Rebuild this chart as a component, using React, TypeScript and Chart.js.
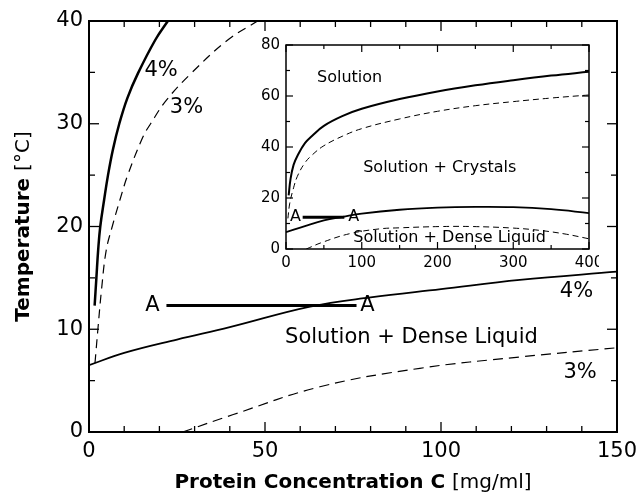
import React, { useEffect, useRef } from "react";
import { Chart, registerables } from "chart.js";
Chart.register(...registerables);

const FONT = "'DejaVu Sans', 'Liberation Sans', sans-serif";

// ---------- Main plot data ----------
const mainXTicks = [0, 50, 100, 150];
const mainYTicks = [0, 10, 20, 30, 40];

// crystal solubility, 4% (solid)
const crys4C = [1.6, 2.1, 2.6, 3.2, 4.3, 5.4, 6.8, 8.6, 10.9, 13.9, 18.9, 22.4];
const crys4T = [12.3, 15.0, 17.7, 20.0, 22.6, 25.0, 27.5, 30.0, 32.5, 34.9, 38.2, 40.0];
// crystal solubility, 3% (dashed)
const crys3C = [1.7, 2.5, 3.6, 4.9, 6.6, 8.8, 11.0, 15.3, 17.5, 22.0, 29.0, 39.6, 47.9];
const crys3T = [6.7, 9.9, 14.0, 17.7, 20.0, 22.6, 25.0, 28.7, 30.0, 32.3, 34.9, 38.2, 40.0];
// liquid-liquid coexistence, 4% (solid)
const ll4C = [0, 10, 25, 40, 62.8, 80, 100, 122.4, 150];
const ll4T = [6.5, 7.7, 9.0, 10.2, 12.2, 13.1, 13.9, 14.8, 15.6];
// liquid-liquid coexistence, 3% (dashed)
const ll3C = [26.6, 41, 65.6, 94, 122.4, 150];
const ll3T = [0, 1.7, 4.4, 6.2, 7.3, 8.2];
// path A–A
const pathAC = [22, 76];
const pathAT = [12.3, 12.3];

// ---------- Inset data ----------
const inXTicks = [0, 100, 200, 300, 400];
const inYTicks = [0, 20, 40, 60, 80];
const inCrys4C = [3.5, 6, 10, 15, 25, 35, 50, 75, 100, 150, 200, 250, 300, 350, 400];
const inCrys4T = [21, 27.5, 33, 36.5, 41.5, 44.5, 48.3, 52.2, 55, 58.8, 61.8, 64.2, 66.2, 68, 69.5];
const inCrys3C = [2.5, 5, 10, 15, 25, 35, 50, 75, 100, 150, 200, 250, 300, 350, 400];
const inCrys3T = [12, 18, 24, 28.5, 33.8, 37, 40.5, 44.3, 47.2, 51, 54, 56.2, 57.8, 59.2, 60.4];
const inLl4C = [0, 25, 50, 75, 100, 150, 200, 250, 300, 350, 400];
const inLl4T = [6.6, 9.0, 11.2, 12.6, 13.9, 15.4, 16.2, 16.5, 16.4, 15.6, 14.1];
const inLl3C = [26.7, 48.7, 84, 123.7, 150, 203, 247, 300, 335, 370, 400];
const inLl3T = [0, 2.7, 6, 7.9, 8.3, 8.8, 8.8, 8.2, 7.3, 5.8, 4.0];
const inPathAC = [22, 77];
const inPathAT = [12.5, 12.5];

// ---------- annotation text (data coordinates) ----------
const mainLabels = [
  { text: "4%", x: 20.5, y: 35.2 },
  { text: "3%", x: 27.7, y: 31.6 },
  { text: "A", x: 18, y: 12.35 },
  { text: "A", x: 79.1, y: 12.35 },
  { text: "4%", x: 138.5, y: 13.7 },
  { text: "3%", x: 139.5, y: 5.8 },
  { text: "Solution + Dense Liquid", x: 91.6, y: 9.15 },
];
const insetLabels = [
  { text: "Solution", x: 84, y: 67.1 },
  { text: "Solution + Crystals", x: 203, y: 31.7 },
  { text: "Solution + Dense Liquid", x: 216, y: 4.5 },
  { text: "A", x: 12.6, y: 12.8 },
  { text: "A", x: 89.3, y: 12.8 },
];

const pts = (xs: number[], ys: number[]) => xs.map((x, i) => ({ x, y: ys[i] }));

function ds(data: any, width: number, dash: number[] = []) {
  return {
    data,
    showLine: true,
    borderColor: "#000",
    backgroundColor: "#000",
    borderWidth: width,
    borderDash: dash,
    pointRadius: 0,
    tension: 0.4,
    fill: false,
  };
}

function drawMixed(ctx: CanvasRenderingContext2D, parts: { text: string; font: string }[], cx: number, cy: number) {
  let total = 0;
  const widths = parts.map((p) => {
    ctx.font = p.font;
    const w = ctx.measureText(p.text).width;
    total += w;
    return w;
  });
  let x = cx - total / 2;
  ctx.textAlign = "left";
  ctx.textBaseline = "middle";
  parts.forEach((p, i) => {
    ctx.font = p.font;
    ctx.fillText(p.text, x, cy);
    x += widths[i];
  });
}

function makeDecor(o: any) {
  return {
    id: "decor_" + o.name,
    afterDatasetsDraw(chart: any) {
      const { ctx, chartArea: a, scales } = chart;
      const xs = scales.x;
      const ys = scales.y;
      ctx.save();
      ctx.strokeStyle = "#000";
      ctx.fillStyle = "#000";
      ctx.lineWidth = o.tickWidth;
      const seg = (x1: number, y1: number, x2: number, y2: number) => {
        ctx.beginPath();
        ctx.moveTo(x1, y1);
        ctx.lineTo(x2, y2);
        ctx.stroke();
      };
      const isMajor = (v: number, m: number) => Math.abs(v / m - Math.round(v / m)) < 1e-6;
      for (let v = xs.min; v <= xs.max + 1e-9; v += o.xMinor) {
        const len = isMajor(v, o.xMajor) ? o.majorLen : o.minorLen;
        const px = xs.getPixelForValue(v);
        seg(px, a.bottom, px, a.bottom - len);
        seg(px, a.top, px, a.top + len);
      }
      for (let v = ys.min; v <= ys.max + 1e-9; v += o.yMinor) {
        const len = isMajor(v, o.yMajor) ? o.majorLen : o.minorLen;
        const py = ys.getPixelForValue(v);
        seg(a.left, py, a.left + len, py);
        seg(a.right, py, a.right - len, py);
      }
      ctx.lineWidth = o.frameWidth;
      ctx.strokeRect(a.left, a.top, a.right - a.left, a.bottom - a.top);

      ctx.font = `${o.labelSize}px ${FONT}`;
      ctx.textAlign = "center";
      ctx.textBaseline = "middle";
      o.labels.forEach((l: any) => {
        ctx.fillText(l.text, xs.getPixelForValue(l.x), ys.getPixelForValue(l.y));
      });

      if (o.titles) {
        const cx = (a.left + a.right) / 2;
        drawMixed(
          ctx,
          [
            { text: "Protein Concentration C ", font: `bold 20px ${FONT}` },
            { text: "[mg/ml]", font: `20px ${FONT}` },
          ],
          cx,
          a.bottom + 51
        );
        ctx.save();
        ctx.translate(24, (a.top + a.bottom) / 2);
        ctx.rotate(-Math.PI / 2);
        drawMixed(
          ctx,
          [
            { text: "Temperature ", font: `bold 20px ${FONT}` },
            { text: "[°C]", font: `20px ${FONT}` },
          ],
          0,
          0
        );
        ctx.restore();
      }
      ctx.restore();
    },
  };
}

function axis(min: number, max: number, ticks: number[], size: number, pad: number, fit: (s: any) => void) {
  return {
    type: "linear",
    min,
    max,
    afterBuildTicks: (s: any) => {
      s.ticks = ticks.map((v) => ({ value: v }));
    },
    afterFit: (s: any) => {
      fit(s);
      s.paddingLeft = 0;
      s.paddingRight = 0;
      s.paddingTop = 0;
      s.paddingBottom = 0;
    },
    grid: { display: false, drawTicks: false },
    border: { display: false },
    ticks: {
      font: { family: FONT, size },
      color: "#000",
      padding: pad,
      maxRotation: 0,
      autoSkip: false,
    },
  };
}

export default function App() {
  const mainRef = useRef<HTMLCanvasElement>(null);
  const insetRef = useRef<HTMLCanvasElement>(null);

  useEffect(() => {
    const main = new Chart(mainRef.current as HTMLCanvasElement, {
      type: "scatter",
      data: {
        datasets: [
          ds(pts(crys4C, crys4T), 2.5),
          ds(pts(crys3C, crys3T), 1.2, [9, 6]),
          ds(pts(ll4C, ll4T), 1.8),
          ds(pts(ll3C, ll3T), 1.2, [10, 6]),
          ds(pts(pathAC, pathAT), 3),
        ] as any,
      },
      options: {
        animation: false,
        responsive: false,
        maintainAspectRatio: false,
        layout: { padding: { top: 21, right: 22, left: 0, bottom: 0 } },
        plugins: { legend: { display: false }, tooltip: { enabled: false } },
        scales: {
          x: axis(0, 150, mainXTicks, 21, 7, (s: any) => {
            s.height = 64;
          }),
          y: axis(0, 40, mainYTicks, 21, 6, (s: any) => {
            s.width = 89;
          }),
        } as any,
      },
      plugins: [
        makeDecor({
          name: "main",
          xMinor: 10,
          xMajor: 50,
          yMinor: 5,
          yMajor: 10,
          majorLen: 10,
          minorLen: 6,
          tickWidth: 1.3,
          frameWidth: 2,
          labelSize: 21,
          labels: mainLabels,
          titles: true,
        }),
      ],
    });

    const inset = new Chart(insetRef.current as HTMLCanvasElement, {
      type: "scatter",
      data: {
        datasets: [
          ds(pts(inCrys4C, inCrys4T), 2),
          ds(pts(inCrys3C, inCrys3T), 1, [6, 4]),
          ds(pts(inLl4C, inLl4T), 1.8),
          ds(pts(inLl3C, inLl3T), 1, [6, 4]),
          ds(pts(inPathAC, inPathAT), 3),
        ] as any,
      },
      options: {
        animation: false,
        responsive: false,
        maintainAspectRatio: false,
        layout: { padding: { top: 10, right: 10, left: 0, bottom: 0 } },
        plugins: { legend: { display: false }, tooltip: { enabled: false } },
        scales: {
          x: axis(0, 400, inXTicks, 15, 5, (s: any) => {
            s.height = 26;
          }),
          y: axis(0, 80, inYTicks, 15, 6, (s: any) => {
            s.width = 37;
          }),
        } as any,
      },
      plugins: [
        makeDecor({
          name: "inset",
          xMinor: 50,
          xMajor: 100,
          yMinor: 10,
          yMajor: 20,
          majorLen: 7,
          minorLen: 4,
          tickWidth: 1.2,
          frameWidth: 1.5,
          labelSize: 16,
          labels: insetLabels,
          titles: false,
        }),
      ],
    });

    return () => {
      main.destroy();
      inset.destroy();
    };
  }, []);

  return (
    <div style={{ position: "fixed", left: 0, top: 0, width: 639, height: 496, background: "#fff" }}>
      <canvas ref={mainRef} width={639} height={496} style={{ position: "absolute", left: 0, top: 0 }} />
      <canvas ref={insetRef} width={350} height={240} style={{ position: "absolute", left: 249, top: 35 }} />
    </div>
  );
}
